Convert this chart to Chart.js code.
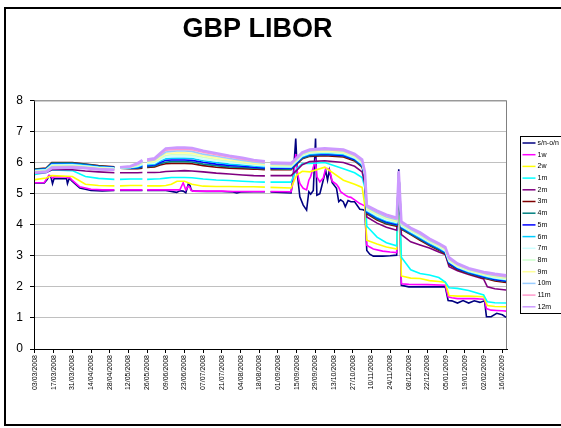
<!DOCTYPE html>
<html>
<head>
<meta charset="utf-8">
<script src="https://cdn.jsdelivr.net/npm/chart.js@4/dist/chart.umd.min.js"></script>
<style>
  html, body { margin: 0; padding: 0; background: #fff; overflow: hidden; }
</style>
</head>
<body>
<canvas id="chart" width="561" height="428"></canvas>
<script>
const FONT = "'Liberation Sans', Arial, sans-serif";

// x axis labels, one every 10 business days
const tickLabels = ['03/03/2008', '17/03/2008', '31/03/2008', '14/04/2008', '28/04/2008', '12/05/2008',
  '26/05/2008', '09/06/2008', '23/06/2008', '07/07/2008', '21/07/2008', '04/08/2008', '18/08/2008',
  '01/09/2008', '15/09/2008', '29/09/2008', '13/10/2008', '27/10/2008', '10/11/2008', '24/11/2008',
  '08/12/2008', '22/12/2008', '05/01/2009', '19/01/2009', '02/02/2009', '16/02/2009'];

const seriesNames = ['s/n-o/n', '1w', '2w', '1m', '2m', '3m', '4m', '5m', '6m', '7m', '8m', '9m', '10m', '11m', '12m'];
const colours = ['#000080', '#FF00FF', '#FFFF00', '#00FFFF', '#800080', '#800000', '#008080', '#0000FF',
  '#00CCFF', '#CCFFFF', '#CCFFCC', '#FFFF99', '#99CCFF', '#FF99CC', '#CC99FF'];

// business day index (0 = 03/03/2008) for the short rates, null = no fixing
const shortDays = [0, 5, 6.5, 7.5, 8.5, 9.4, 10.2, 16.9, 17.4, 18.4, 19.6, 24, 30, 36, 42.5, 44, 45.5, 51, 57.5, 59,
  60, 70, 75.8, 77.5, 79.3, 80.7, 82, 82.9, 83.6, 84.7, 92, 100, 106, 108, 110, 117, 123, 124.5, 126, 137,
  138.2, 139.5, 140.4, 141.7, 143.5, 145.3, 146.5, 147.5, 148.9, 150.1, 150.8, 152.4, 154.2, 155.5, 156.5, 157.5,
  159, 161.3, 162.5, 163.5, 164.9, 166, 167.5, 169, 171, 173.8, 175.6, 176.5, 177.5, 179.1, 181, 186, 190,
  193.5, 194.6, 196, 200, 210, 219.5, 221, 223, 226, 229, 232, 235, 238, 240.5, 241.5, 244, 247, 250, 252];

const sn = [5.34, 5.34, 5.45, 5.57, 5.55, 5.32, 5.48, 5.48, 5.32, 5.5, 5.42, 5.18, 5.1, 5.09, 5.1, null, 5.1, 5.1, 5.1, null,
  5.1, 5.1, 5.04, 5.09, 5.08, 5.03, 5.3, 5.27, 5.12, 5.08, 5.07, 5.07, 5.05, 5.02, 5.05, 5.06, 5.06, null, 5.05, 5.02,
  5.6, 6.77, 5.6, 4.9, 4.63, 4.47, 5.06, 4.98, 5.1, 6.77, 4.95, 5.0, 5.43, 5.75, 5.43, 5.75,
  5.35, 5.17, 4.74, 4.8, 4.74, 4.58, 4.78, 4.74, 4.74, 4.5, 4.48, 4.45, 3.17, 3.05, 2.99, 2.99, 3.0,
  3.02, 5.78, 2.05, 2.0, 2.0, 2.0, 1.56, 1.55, 1.48, 1.56, 1.48, 1.55, 1.5, 1.55, 1.04, 1.04, 1.15, 1.1, 1.02];

const w1 = [5.35, 5.36, 5.5, 5.59, 5.57, 5.5, 5.54, 5.54, 5.5, 5.53, 5.45, 5.22, 5.14, 5.12, 5.12, null, 5.12, 5.12, 5.12, null,
  5.12, 5.12, 5.12, 5.12, 5.35, 5.12, 5.24, 5.2, 5.1, 5.08, 5.08, 5.08, 5.07, 5.07, 5.07, 5.07, 5.07, null, 5.07, 5.06,
  5.4, 6.27, 5.65, 5.33, 5.17, 5.12, 5.43, 5.55, 5.85, 6.05, 5.54, 5.38, 5.5, 5.81, 5.81, 5.78,
  5.4, 5.3, 5.2, 5.06, 5.0, 4.95, 4.9, 4.88, 4.8, 4.68, 4.63, 4.6, 3.34, 3.28, 3.22, 3.15, 3.12,
  3.1, 5.7, 2.1, 2.08, 2.07, 2.05, 1.68, 1.65, 1.62, 1.62, 1.62, 1.62, 1.61, 1.6, 1.3, 1.25, 1.24, 1.23, 1.22];

// business day index for the term rates
const days = [0, 6, 9, 20, 27, 34, 42.5, 44, 45.5, 51, 55, 57.5, 59, 60, 64, 67, 70, 73, 76, 80, 84, 90, 97, 104,
  111, 117, 123, 124.5, 126, 137, 140, 143, 147, 155, 165, 171, 175, 176.5, 177.5, 183, 188, 193.5, 194.6, 196,
  201, 206, 211, 216, 219.5, 221.5, 226, 232, 240, 242, 246, 252];

const w2 = [5.45, 5.50, 5.58, 5.55, 5.30, 5.26, 5.25, null, 5.25, 5.26, 5.26, 5.26, null, 5.25, 5.25, 5.25, 5.26, 5.30,
  5.40, 5.40, 5.30, 5.24, 5.23, 5.23, 5.22, 5.22, 5.21, null, 5.20, 5.18, 5.60, 5.72, 5.70, 5.85, 5.43, 5.30, 5.20,
  4.60, 3.50, 3.38, 3.28, 3.22, 5.65, 2.35, 2.28, 2.27, 2.20, 2.17, 2.15, 1.72, 1.70, 1.70, 1.68, 1.40, 1.37, 1.36];
const m1 = [5.62, 5.68, 5.76, 5.74, 5.55, 5.49, 5.46, null, 5.46, 5.47, 5.47, 5.47, null, 5.46, 5.47, 5.48, 5.50, 5.52,
  5.52, 5.52, 5.51, 5.47, 5.44, 5.42, 5.40, 5.38, 5.37, null, 5.37, 5.37, 5.80, 5.97, 5.97, 6.00, 5.80, 5.67, 5.52,
  5.20, 3.95, 3.60, 3.42, 3.32, 5.68, 2.95, 2.55, 2.43, 2.38, 2.30, 2.15, 1.97, 1.95, 1.88, 1.74, 1.52, 1.49, 1.48];
const m2 = [5.66, 5.68, 5.77, 5.77, 5.73, 5.70, 5.67, null, 5.67, 5.67, 5.67, 5.68, null, 5.68, 5.68, 5.69, 5.71, 5.72,
  5.73, 5.74, 5.73, 5.70, 5.66, 5.63, 5.60, 5.58, 5.57, null, 5.58, 5.58, 5.75, 5.93, 6.03, 6.06, 6.00, 5.88, 5.70,
  5.30, 4.25, 4.05, 3.92, 3.82, 5.68, 3.68, 3.45, 3.35, 3.25, 3.12, 3.04, 2.65, 2.52, 2.40, 2.25, 2.00, 1.94, 1.90];
const m3 = [5.79, 5.82, 6.00, 6.00, 5.95, 5.90, 5.86, null, 5.82, 5.80, 5.80, 5.82, null, 5.84, 5.86, 5.92, 5.96, 5.97,
  5.97, 5.97, 5.96, 5.90, 5.85, 5.82, 5.80, 5.79, 5.77, null, 5.77, 5.77, 5.95, 6.12, 6.20, 6.22, 6.18, 6.05, 5.85,
  5.50, 4.35, 4.15, 4.02, 3.95, 5.70, 3.85, 3.68, 3.50, 3.33, 3.18, 3.05, 2.72, 2.55, 2.42, 2.28, 2.25, 2.19, 2.14];
const m4 = [5.78, 5.81, 5.98, 5.98, 5.94, 5.89, 5.85, null, 5.82, 5.81, 5.82, 5.85, null, 5.87, 5.89, 5.96, 6.01, 6.03,
  6.03, 6.03, 6.02, 5.95, 5.90, 5.86, 5.84, 5.82, 5.80, null, 5.80, 5.79, 5.97, 6.14, 6.22, 6.25, 6.21, 6.08, 5.88,
  5.52, 4.38, 4.18, 4.05, 3.98, 5.70, 3.88, 3.70, 3.53, 3.35, 3.20, 3.08, 2.75, 2.57, 2.44, 2.30, 2.27, 2.22, 2.17];
const m5 = [5.76, 5.79, 5.96, 5.96, 5.92, 5.87, 5.84, null, 5.83, 5.82, 5.84, 5.88, null, 5.90, 5.92, 6.00, 6.07, 6.08,
  6.08, 6.08, 6.07, 6.01, 5.95, 5.91, 5.88, 5.85, 5.83, null, 5.82, 5.82, 5.99, 6.17, 6.25, 6.27, 6.23, 6.10, 5.91,
  5.54, 4.41, 4.22, 4.09, 4.01, 5.70, 3.91, 3.73, 3.56, 3.38, 3.23, 3.10, 2.77, 2.59, 2.46, 2.32, 2.30, 2.24, 2.19];
const m6 = [5.75, 5.78, 5.94, 5.95, 5.91, 5.86, 5.83, null, 5.83, 5.83, 5.86, 5.91, null, 5.93, 5.95, 6.05, 6.12, 6.14,
  6.14, 6.14, 6.13, 6.06, 6.00, 5.95, 5.92, 5.89, 5.86, null, 5.85, 5.84, 6.02, 6.19, 6.27, 6.30, 6.26, 6.13, 5.93,
  5.57, 4.44, 4.25, 4.12, 4.04, 5.71, 3.93, 3.75, 3.58, 3.40, 3.25, 3.13, 2.80, 2.62, 2.48, 2.35, 2.32, 2.27, 2.22];
const m7 = [5.74, 5.77, 5.92, 5.93, 5.89, 5.85, 5.82, null, 5.83, 5.84, 5.88, 5.94, null, 5.96, 5.98, 6.09, 6.18, 6.19,
  6.20, 6.20, 6.19, 6.11, 6.05, 6.00, 5.96, 5.92, 5.89, null, 5.87, 5.86, 6.04, 6.21, 6.30, 6.33, 6.29, 6.15, 5.96,
  5.59, 4.47, 4.28, 4.15, 4.07, 5.71, 3.96, 3.78, 3.61, 3.43, 3.28, 3.15, 2.82, 2.64, 2.50, 2.37, 2.34, 2.29, 2.24];
const m8 = [5.72, 5.75, 5.90, 5.91, 5.88, 5.83, 5.80, null, 5.84, 5.84, 5.90, 5.96, null, 5.98, 6.02, 6.13, 6.23, 6.25,
  6.25, 6.25, 6.24, 6.17, 6.10, 6.04, 5.99, 5.95, 5.92, null, 5.90, 5.89, 6.06, 6.24, 6.32, 6.35, 6.31, 6.18, 5.99,
  5.61, 4.50, 4.32, 4.19, 4.10, 5.71, 3.99, 3.80, 3.64, 3.45, 3.30, 3.18, 2.85, 2.66, 2.52, 2.39, 2.37, 2.32, 2.27];
const m9 = [5.71, 5.74, 5.88, 5.89, 5.86, 5.82, 5.79, null, 5.84, 5.85, 5.92, 5.99, null, 6.01, 6.05, 6.17, 6.29, 6.30,
  6.31, 6.31, 6.30, 6.22, 6.15, 6.09, 6.03, 5.98, 5.95, null, 5.92, 5.91, 6.08, 6.26, 6.35, 6.38, 6.34, 6.20, 6.02,
  5.63, 4.53, 4.35, 4.22, 4.13, 5.71, 4.02, 3.83, 3.67, 3.48, 3.33, 3.20, 2.87, 2.68, 2.54, 2.41, 2.39, 2.34, 2.29];
const m10 = [5.70, 5.73, 5.86, 5.88, 5.85, 5.81, 5.78, null, 5.84, 5.86, 5.94, 6.02, null, 6.04, 6.08, 6.22, 6.34, 6.36,
  6.37, 6.37, 6.36, 6.27, 6.20, 6.13, 6.07, 6.02, 5.98, null, 5.95, 5.93, 6.11, 6.28, 6.37, 6.41, 6.37, 6.23, 6.04,
  5.66, 4.56, 4.38, 4.25, 4.16, 5.72, 4.04, 3.85, 3.69, 3.50, 3.35, 3.23, 2.90, 2.71, 2.56, 2.44, 2.41, 2.37, 2.32];
const m11 = [5.68, 5.71, 5.84, 5.86, 5.83, 5.79, 5.77, null, 5.85, 5.87, 5.96, 6.05, null, 6.07, 6.11, 6.26, 6.40, 6.41,
  6.42, 6.42, 6.41, 6.33, 6.25, 6.18, 6.11, 6.05, 6.01, null, 5.97, 5.96, 6.13, 6.31, 6.40, 6.43, 6.39, 6.25, 6.07,
  5.68, 4.59, 4.42, 4.29, 4.19, 5.72, 4.07, 3.88, 3.72, 3.53, 3.38, 3.25, 2.92, 2.73, 2.58, 2.46, 2.44, 2.39, 2.34];
const m12 = [5.67, 5.70, 5.82, 5.84, 5.82, 5.78, 5.76, null, 5.85, 5.88, 5.98, 6.08, null, 6.10, 6.14, 6.30, 6.45, 6.47,
  6.48, 6.48, 6.47, 6.38, 6.30, 6.22, 6.15, 6.08, 6.04, null, 6.00, 5.98, 6.15, 6.33, 6.42, 6.46, 6.42, 6.28, 6.10,
  5.70, 4.62, 4.45, 4.32, 4.22, 5.72, 4.10, 3.90, 3.75, 3.55, 3.40, 3.28, 2.95, 2.75, 2.60, 2.48, 2.46, 2.42, 2.37];

const seriesValues = [sn, w1, w2, m1, m2, m3, m4, m5, m6, m7, m8, m9, m10, m11, m12];

function points(xs, ys) {
  return xs.map((x, i) => ({x: x, y: ys[i]}));
}

const datasets = seriesValues.map((vals, i) => ({
  label: seriesNames[i],
  data: points(i < 2 ? shortDays : days, vals),
  borderColor: colours[i],
  backgroundColor: colours[i],
  borderWidth: i === 14 ? 2.6 : 1.6,
  pointRadius: 0,
  tension: 0,
  spanGaps: false,
  order: 14 - i   // later series on top, like the spreadsheet
}));

// grey top/right edge of the plot area, outer frame and the boxed legend
const frame = {
  id: 'frame',
  beforeDatasetsDraw(chart) {
    const {ctx, chartArea: a} = chart;
    ctx.save();
    ctx.strokeStyle = '#808080';
    ctx.lineWidth = 1;
    ctx.beginPath();
    ctx.moveTo(a.left, a.top + 0.5);
    ctx.lineTo(a.right - 0.5, a.top + 0.5);
    ctx.lineTo(a.right - 0.5, a.bottom);
    ctx.stroke();
    ctx.restore();
  },
  afterDraw(chart) {
    const ctx = chart.ctx;
    ctx.save();
    ctx.strokeStyle = '#000';
    ctx.lineWidth = 2;
    ctx.strokeRect(5, 8, 620, 417);

    const left = chart.chartArea.right + 13.5, top = 136.5;
    ctx.lineWidth = 1;
    ctx.strokeStyle = '#000';
    ctx.strokeRect(left, top, 60, 177);
    ctx.font = '7px ' + FONT;
    ctx.textBaseline = 'middle';
    chart.data.datasets.forEach((ds, i) => {
      const y = top + 6.5 + i * 11.7;
      ctx.strokeStyle = ds.borderColor;
      ctx.lineWidth = 1.5;
      ctx.beginPath();
      ctx.moveTo(left + 2, y);
      ctx.lineTo(left + 15, y);
      ctx.stroke();
      ctx.fillStyle = '#000';
      ctx.fillText(ds.label, left + 17, y);
    });
    ctx.restore();
  }
};

new Chart(document.getElementById('chart'), {
  type: 'line',
  data: { datasets: datasets },
  options: {
    responsive: false,
    animation: false,
    events: [],
    layout: { padding: { left: 8, right: 54, top: 8, bottom: 0 } },
    scales: {
      x: {
        type: 'linear',
        min: -0.5,
        max: 252.5,
        afterBuildTicks: (scale) => {
          scale.ticks = tickLabels.map((_, k) => ({ value: k * 10 }));
        },
        afterFit: (scale) => { scale.height = 79; },
        grid: { drawOnChartArea: false, drawTicks: true, tickLength: 4, tickColor: '#000' },
        border: { color: '#000', width: 1 },
        ticks: {
          autoSkip: false,
          minRotation: 90,
          maxRotation: 90,
          padding: 2,
          color: '#000',
          font: { family: FONT, size: 7 },
          callback: (v) => tickLabels[Math.round(v / 10)] || ''
        }
      },
      y: {
        min: 0,
        max: 8,
        afterFit: (scale) => { scale.width = 26; },
        grid: { color: '#c0c0c0', lineWidth: 1, tickLength: 4, tickColor: '#000' },
        border: { color: '#000', width: 1 },
        ticks: { stepSize: 1, padding: 7, color: '#000', font: { family: FONT, size: 12 } }
      }
    },
    plugins: {
      legend: { display: false },
      tooltip: { enabled: false },
      title: {
        display: true,
        text: 'GBP LIBOR',
        color: '#000',
        font: { family: FONT, size: 27, weight: 'bold', lineHeight: 1.2 },
        padding: { top: 5, bottom: 55 }
      }
    }
  },
  plugins: [frame]
});
</script>
</body>
</html>
